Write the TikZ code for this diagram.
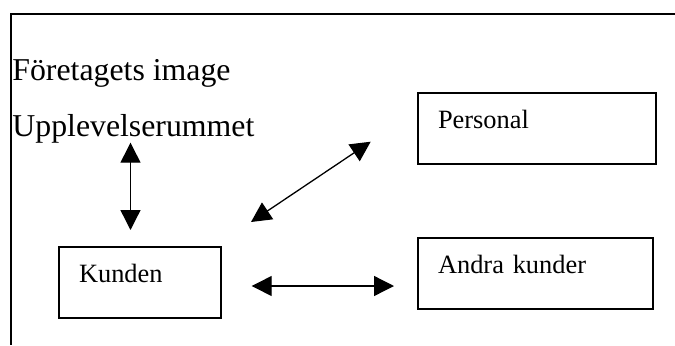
\documentclass[tikz,border=0pt]{standalone}
\usepackage{fontspec}
\setmainfont{Liberation Serif}
\usetikzlibrary{arrows.meta}

\begin{document}
\begin{tikzpicture}[
  x=0.5pt, y=0.5pt,
  >={Triangle[length=10pt, width=10pt]},
  box/.style={draw, line width=0.65pt, anchor=north west, align=left,
    inner xsep=10pt, inner ysep=0pt, outer sep=0pt, text width=#1,
    text height=17.5pt, text depth=18pt, font=\fontsize{13.2}{16}\selectfont},
  headline/.style={anchor=base west, inner sep=0pt,
    font=\fontsize{15.9}{19}\selectfont},
  arr/.style={<->, line width=0.65pt},
]

\useasboundingbox (0,0) rectangle (675,345);

% Frame
\draw[line width=0.65pt] (675,331) -- (11,331) -- (11,0);

% =============================================
% Headings
% =============================================
\node[headline] (image) at (12,265) {Företagets image};
\node[headline] (rummet) at (12,209) {Upplevelserummet};

% =============================================
% Boxes
% =============================================
\node[box=99pt] (personal) at (418,252) {Personal};
\node[box=97.5pt] (andra) at (418,107) {Andra kunder};
\node[box=61pt] (kunden) at (59,98) {Kunden};

% Arrow ends
\coordinate (rummetend) at (130.5,202.3);
\coordinate (kundentop) at (130.5,115);
\coordinate (kundencorner) at (251,123);
\coordinate (personalend) at (370.7,203.3);
\coordinate (kundenright) at (251.7,59);
\coordinate (andraend) at (394,59);

% =============================================
% Connectors
% =============================================
\draw[arr] (rummetend) -- (kundentop);
\draw[arr] (kundencorner) -- (personalend);
\draw[arr] (kundenright) -- (andraend);

\end{tikzpicture}
\end{document}
